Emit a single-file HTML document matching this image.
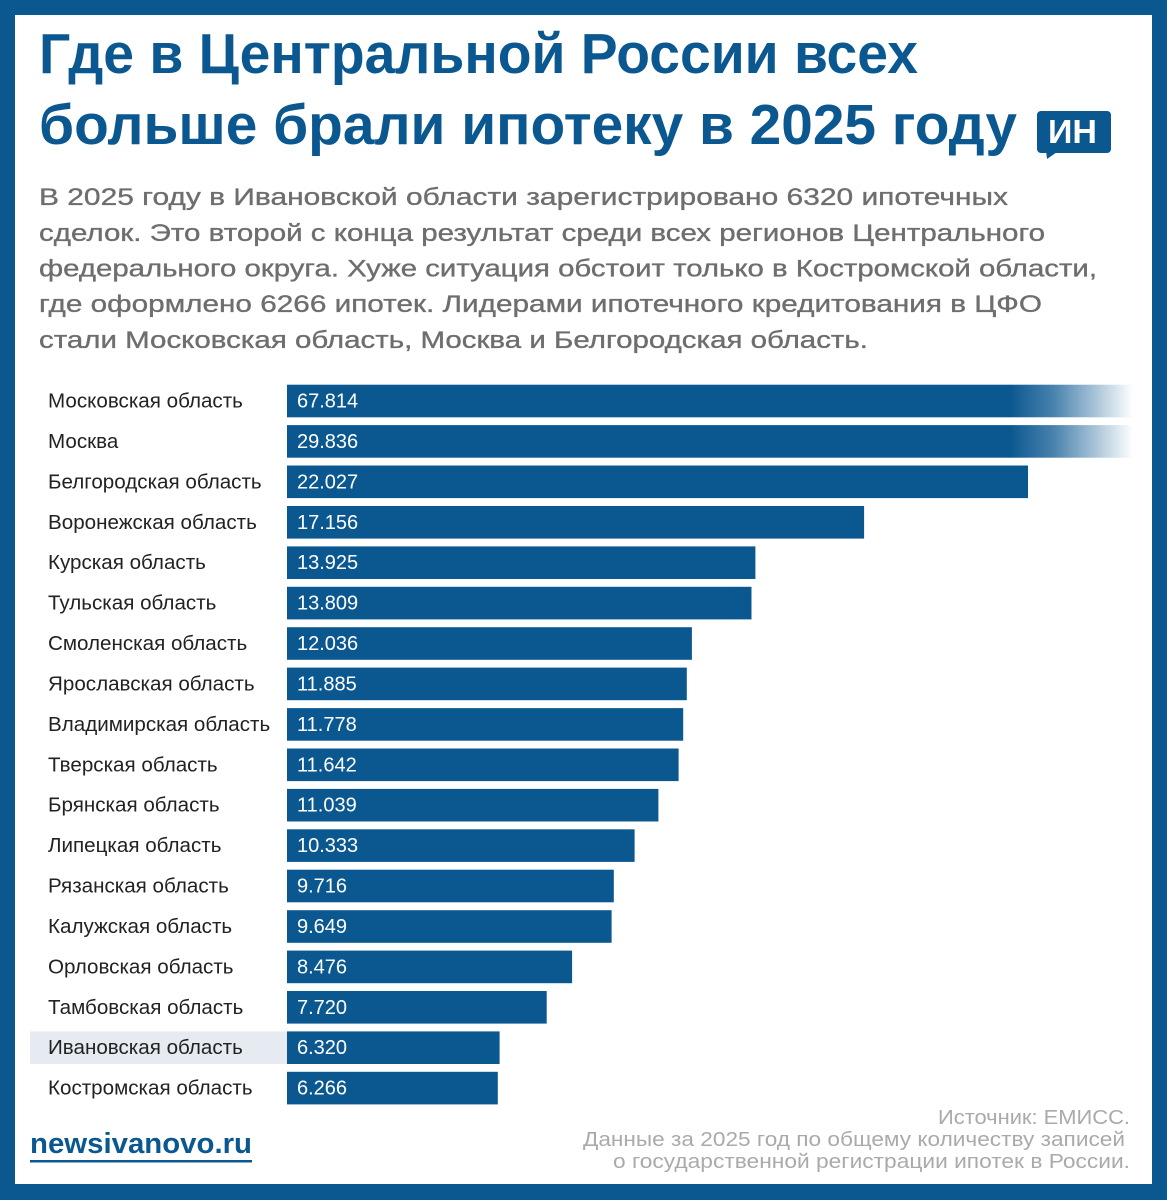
<!DOCTYPE html>
<html>
<head>
<meta charset="utf-8">
<style>
html,body{margin:0;padding:0;background:#fff;}
svg{display:block;}
text{font-family:"Liberation Sans","DejaVu Sans",sans-serif;}
</style>
</head>
<body>
<svg width="1167" height="1200" viewBox="0 0 1167 1200" xmlns="http://www.w3.org/2000/svg">
<defs>
<linearGradient id="fade" gradientUnits="userSpaceOnUse" x1="1010" y1="0" x2="1133" y2="0">
<stop offset="0" stop-color="#0b5891" stop-opacity="1"/>
<stop offset="0.35" stop-color="#0b5891" stop-opacity="0.75"/>
<stop offset="1" stop-color="#0b5891" stop-opacity="0"/>
</linearGradient>
</defs>
<rect x="0" y="0" width="1167" height="1200" fill="#0b5891"/>
<rect x="15" y="15" width="1137" height="1169" fill="#ffffff"/>

<!-- Title -->
<text x="39" y="73" font-size="57" font-weight="bold" fill="#0b5891" textLength="879" lengthAdjust="spacingAndGlyphs">Где в Центральной России всех</text>
<text x="39" y="144" font-size="57" font-weight="bold" fill="#0b5891" textLength="978" lengthAdjust="spacingAndGlyphs">больше брали ипотеку в 2025 году</text>

<!-- Logo -->
<rect x="1037" y="111" width="74" height="42" rx="4" fill="#0b5891"/>
<polygon points="1046,150 1060,150 1047,159" fill="#0b5891"/>
<text x="1048" y="143" font-size="33" font-weight="bold" fill="#ffffff" textLength="49" lengthAdjust="spacingAndGlyphs">ИН</text>

<!-- Paragraph -->
<g font-size="24.5" fill="#6e6e6e" stroke="#6e6e6e" stroke-width="0.35">
<text x="39" y="205" textLength="969" lengthAdjust="spacingAndGlyphs">В 2025 году в Ивановской области зарегистрировано 6320 ипотечных</text>
<text x="39" y="241" textLength="1006" lengthAdjust="spacingAndGlyphs">сделок. Это второй с конца результат среди всех регионов Центрального</text>
<text x="39" y="276.5" textLength="1058" lengthAdjust="spacingAndGlyphs">федерального округа. Хуже ситуация обстоит только в Костромской области,</text>
<text x="39" y="312" textLength="1003" lengthAdjust="spacingAndGlyphs">где оформлено 6266 ипотек. Лидерами ипотечного кредитования в ЦФО</text>
<text x="39" y="348" textLength="829" lengthAdjust="spacingAndGlyphs">стали Московская область, Москва и Белгородская область.</text>
</g>

<!-- Highlight row -->
<rect x="30" y="1031.4" width="257" height="32.6" fill="#e5ebf1"/>

<!-- Bars -->
<g fill="#0b5891">
<rect x="287" y="384.7" width="725" height="32.6"/>
<rect x="1012" y="384.7" width="121" height="32.6" fill="url(#fade)"/>
<rect x="287" y="425.1" width="725" height="32.6"/>
<rect x="1012" y="425.1" width="121" height="32.6" fill="url(#fade)"/>
<rect x="287" y="465.5" width="741" height="32.6"/>
<rect x="287" y="506.0" width="577.1" height="32.6"/>
<rect x="287" y="546.4" width="468.4" height="32.6"/>
<rect x="287" y="586.8" width="464.5" height="32.6"/>
<rect x="287" y="627.2" width="404.9" height="32.6"/>
<rect x="287" y="667.6" width="399.8" height="32.6"/>
<rect x="287" y="708.1" width="396.2" height="32.6"/>
<rect x="287" y="748.5" width="391.6" height="32.6"/>
<rect x="287" y="788.9" width="371.4" height="32.6"/>
<rect x="287" y="829.3" width="347.6" height="32.6"/>
<rect x="287" y="869.7" width="326.8" height="32.6"/>
<rect x="287" y="910.2" width="324.6" height="32.6"/>
<rect x="287" y="950.6" width="285.1" height="32.6"/>
<rect x="287" y="991.0" width="259.7" height="32.6"/>
<rect x="287" y="1031.4" width="212.6" height="32.6"/>
<rect x="287" y="1071.8" width="210.8" height="32.6"/>
</g>

<!-- Labels -->
<g font-size="20.6" fill="#222222">
<text x="48" y="407.5">Московская область</text>
<text x="48" y="447.9">Москва</text>
<text x="48" y="488.3">Белгородская область</text>
<text x="48" y="528.8">Воронежская область</text>
<text x="48" y="569.2">Курская область</text>
<text x="48" y="609.6">Тульская область</text>
<text x="48" y="650.0">Смоленская область</text>
<text x="48" y="690.4">Ярославская область</text>
<text x="48" y="730.9">Владимирская область</text>
<text x="48" y="771.3">Тверская область</text>
<text x="48" y="811.7">Брянская область</text>
<text x="48" y="852.1">Липецкая область</text>
<text x="48" y="892.5">Рязанская область</text>
<text x="48" y="933.0">Калужская область</text>
<text x="48" y="973.4">Орловская область</text>
<text x="48" y="1013.8">Тамбовская область</text>
<text x="48" y="1054.2">Ивановская область</text>
<text x="48" y="1094.6">Костромская область</text>
</g>

<!-- Values -->
<g font-size="20" fill="#ffffff">
<text x="297" y="407.5">67.814</text>
<text x="297" y="447.9">29.836</text>
<text x="297" y="488.3">22.027</text>
<text x="297" y="528.8">17.156</text>
<text x="297" y="569.2">13.925</text>
<text x="297" y="609.6">13.809</text>
<text x="297" y="650.0">12.036</text>
<text x="297" y="690.4">11.885</text>
<text x="297" y="730.9">11.778</text>
<text x="297" y="771.3">11.642</text>
<text x="297" y="811.7">11.039</text>
<text x="297" y="852.1">10.333</text>
<text x="297" y="892.5">9.716</text>
<text x="297" y="933.0">9.649</text>
<text x="297" y="973.4">8.476</text>
<text x="297" y="1013.8">7.720</text>
<text x="297" y="1054.2">6.320</text>
<text x="297" y="1094.6">6.266</text>
</g>

<!-- Site link -->
<text x="30" y="1153" font-size="29" font-weight="bold" fill="#0b5891" textLength="222" lengthAdjust="spacingAndGlyphs">newsivanovo.ru</text>
<rect x="30" y="1160" width="222" height="2.5" fill="#0b5891"/>

<!-- Source -->
<g font-size="20" fill="#aaaaaa">
<text x="938" y="1124" textLength="192" lengthAdjust="spacingAndGlyphs">Источник: ЕМИСС.</text>
<text x="583" y="1146" textLength="542" lengthAdjust="spacingAndGlyphs">Данные за 2025 год по общему количеству записей</text>
<text x="613" y="1168" textLength="517" lengthAdjust="spacingAndGlyphs">о государственной регистрации ипотек в России.</text>
</g>
</svg>
</body>
</html>
